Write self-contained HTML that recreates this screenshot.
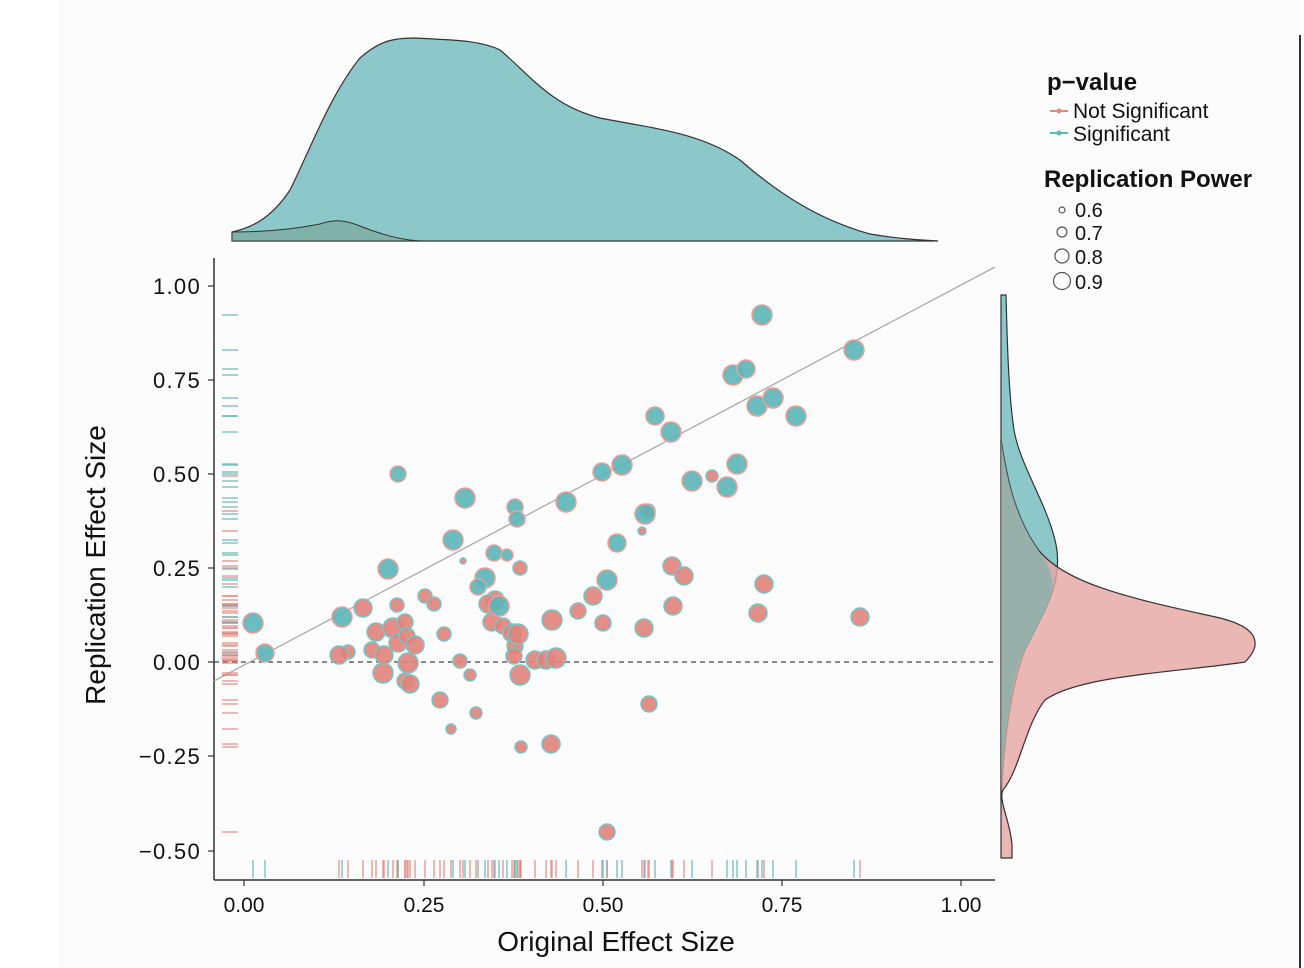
<!DOCTYPE html>
<html><head><meta charset="utf-8"><style>body{margin:0;background:#fff}svg{display:block}text{font-family:"Liberation Sans",sans-serif;fill:#111}</style></head><body>
<svg width="1304" height="968" viewBox="0 0 1304 968" xmlns="http://www.w3.org/2000/svg">
<rect x="0" y="0" width="1304" height="968" fill="#fff"/>
<rect x="58" y="0" width="1240" height="968" fill="#fcfcfc"/>
<line x1="1300" y1="35" x2="1300" y2="968" stroke="#333" stroke-width="2"/>
<path d="M232,241 L232,232 C250,228 270,220 290,190 C310,150 330,95 360,58 C380,40 395,38 415,38 C450,40 480,40 500,50 C530,75 550,105 600,118 C650,128 700,132 740,160 C780,195 820,220 870,234 C900,239 920,240 938,241 Z" fill="#8cc8ca" stroke="#333" stroke-width="1.2"/>
<path d="M232,241 L232,232 C270,232 300,228 320,224 C335,219 345,220 360,226 C380,234 400,240 420,241 Z" fill="#7fb2a9" stroke="#333" stroke-width="1"/>
<path d="M1001,295 L1006,295 C1007,330 1008,390 1014,430 C1020,465 1045,500 1055,540 C1065,580 1045,610 1025,650 C1010,690 1004,740 1001,800 Z" fill="#8cc8ca" stroke="#333" stroke-width="1.2"/>
<path d="M1001,440 C1006,470 1012,510 1035,545 C1060,585 1140,600 1220,618 C1260,628 1262,645 1245,662 C1180,672 1080,675 1045,700 C1025,725 1020,770 1003,790 C998,800 1010,820 1012,845 L1012,858 L1001,858 Z" fill="#e6a5a3" fill-opacity="0.8" stroke="#333" stroke-width="1.2"/>
<path d="M1001,440 C1006,470 1012,510 1035,545 C1045,560 1055,575 1052,590 C1048,610 1030,640 1020,660 C1010,690 1004,740 1001,790 Z" fill="#7fb2a9" fill-opacity="0.7"/>
<line x1="214" y1="258" x2="214" y2="880" stroke="#333" stroke-width="1.5"/>
<line x1="214" y1="880" x2="995" y2="880" stroke="#333" stroke-width="1.5"/>
<g stroke="#333" stroke-width="1.2">
<line x1="208" y1="286" x2="214" y2="286"/><line x1="208" y1="380" x2="214" y2="380"/><line x1="208" y1="474" x2="214" y2="474"/><line x1="208" y1="568" x2="214" y2="568"/><line x1="208" y1="662" x2="214" y2="662"/><line x1="208" y1="756" x2="214" y2="756"/><line x1="208" y1="851" x2="214" y2="851"/>
<line x1="244" y1="880" x2="244" y2="886"/><line x1="424" y1="880" x2="424" y2="886"/><line x1="603" y1="880" x2="603" y2="886"/><line x1="782" y1="880" x2="782" y2="886"/><line x1="961" y1="880" x2="961" y2="886"/>
</g>
<g font-size="22" text-anchor="end" letter-spacing="1.3">
<text x="201" y="294">1.00</text><text x="201" y="388">0.75</text><text x="201" y="482">0.50</text><text x="201" y="576">0.25</text><text x="201" y="670">0.00</text><text x="201" y="764">−0.25</text><text x="201" y="859">−0.50</text>
</g>
<g font-size="21" text-anchor="middle">
<text x="244" y="912">0.00</text><text x="424" y="912">0.25</text><text x="603" y="912">0.50</text><text x="782" y="912">0.75</text><text x="961" y="912">1.00</text>
</g>
<text x="616" y="951" font-size="28" text-anchor="middle">Original Effect Size</text>
<text transform="translate(105,565) rotate(-90)" font-size="28" text-anchor="middle">Replication Effect Size</text>
<line x1="214" y1="662" x2="995" y2="662" stroke="#444" stroke-width="1.3" stroke-dasharray="5,4"/>
<line x1="214" y1="681" x2="995" y2="267" stroke="#aaa" stroke-width="1.3"/>
<g id="rugs" stroke-width="1.5"></g>
<g id="pts" fill-opacity="0.9" stroke-width="1.5"></g>
<text x="1047" y="90" font-size="24" font-weight="bold">p−value</text>
<line x1="1050" y1="111" x2="1068" y2="111" stroke="#e28a82" stroke-width="2"/><circle cx="1059" cy="111" r="2.5" fill="#e28a82"/>
<text x="1073" y="118" font-size="21">Not Significant</text>
<line x1="1050" y1="133" x2="1068" y2="133" stroke="#5bb8bb" stroke-width="2"/><circle cx="1059" cy="133" r="2.5" fill="#5bb8bb"/>
<text x="1073" y="141" font-size="21">Significant</text>
<text x="1044" y="187" font-size="24" font-weight="bold">Replication Power</text>
<g fill="none" stroke="#555" stroke-width="1.2"><circle cx="1062" cy="210" r="3"/><circle cx="1062" cy="232" r="5"/><circle cx="1062" cy="256" r="7"/><circle cx="1062" cy="281" r="8.5"/></g>
<g font-size="20"><text x="1075" y="217">0.6</text><text x="1075" y="240">0.7</text><text x="1075" y="264">0.8</text><text x="1075" y="289">0.9</text></g>
<script>
var T=[[253,623,10],[265,653,9],[342,617,10],[388,569,10],[398,474,8],[453,540,10],[465,498,10],[485,578,10],[478,587,8],[494,553,8],[507,555,6],[499,606,10],[515,507,8],[517,519,8],[566,502,10],[602,472,9],[622,465,10],[617,543,9],[607,580,10],[645,514,10],[655,416,9],[671,432,10],[692,481,10],[727,487,10],[733,375,10],[737,464,10],[746,369,9],[757,406,10],[773,398,10],[796,416,10],[762,315,10],[854,350,10]];
var R=[[363,608,9],[348,652,7],[339,655,9],[372,650,8],[376,632,9],[383,673,10],[384,655,9],[393,628,10],[397,605,7],[398,643,9],[405,622,8],[407,636,8],[408,663,10],[405,681,8],[410,684,9],[415,645,9],[425,596,7],[434,604,7],[444,634,7],[440,700,8],[451,729,5],[463,561,3],[470,675,6],[476,713,6],[492,622,9],[495,600,9],[503,626,8],[512,633,9],[515,646,8],[518,634,10],[514,656,8],[520,675,10],[520,568,7],[521,747,6],[535,660,9],[546,660,9],[552,620,10],[551,744,9],[556,658,10],[578,611,8],[593,596,9],[603,623,8],[642,531,4],[648,511,7],[644,628,9],[649,704,8],[672,566,9],[673,606,9],[684,576,9],[712,476,6],[758,613,9],[764,584,9],[860,617,9],[607,832,8],[488,604,9],[460,661,7]];
var ns="http://www.w3.org/2000/svg",p=document.getElementById("pts"),g=document.getElementById("rugs");
function L(a,b,c,d,col){var l=document.createElementNS(ns,"line");l.setAttribute("x1",a);l.setAttribute("y1",b);l.setAttribute("x2",c);l.setAttribute("y2",d);l.setAttribute("stroke",col);l.setAttribute("stroke-opacity","0.75");g.appendChild(l);}
function draw(arr,f,s){arr.forEach(function(d){var c=document.createElementNS(ns,"circle");c.setAttribute("cx",d[0]);c.setAttribute("cy",d[1]);c.setAttribute("r",d[2]);c.setAttribute("fill",f);c.setAttribute("stroke",s);p.appendChild(c);L(d[0],860,d[0],878,f);L(222,d[1],238,d[1],f);});}
draw(R,"#e0837b","#7cc4c4");draw(T,"#5bb5b7","#e8a09a");
</script>
</svg>
</body></html>
